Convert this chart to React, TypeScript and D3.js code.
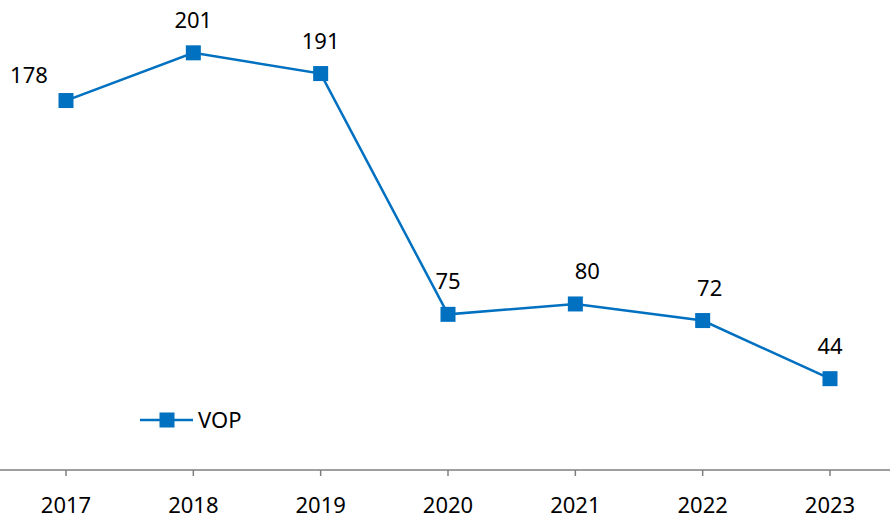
import React from "react";
import * as d3 from "d3";

const years = ["2017", "2018", "2019", "2020", "2021", "2022", "2023"];
const vop = [178, 201, 191, 75, 80, 72, 44];
const seriesName = "VOP";
// label nudges (dx, dy) relative to default "above" placement
const labelDx = [-37, 0, 0, 0, 12, 7, 0];
const labelDy = [7, 0, 0, 0, 0, 0, 0];

const W = 890;
const H = 523;
const COLOR = "#0070C0";
const FONT = "'Noto Sans', 'Open Sans', sans-serif";

export default function App() {
  const x = d3.scalePoint<string>().domain(years).range([66, 830]);
  const y = d3.scaleLinear().domain([0, 225]).range([470, 3]);
  const line = d3
    .line<number>()
    .x((_, i) => x(years[i]) as number)
    .y((d) => y(d));
  const ms = 15;

  return (
    <svg
      width={W}
      height={H}
      style={{ position: "absolute", left: 0, top: 0, background: "#fff" }}
      fontFamily={FONT}
    >
      <rect x={0} y={0} width={W} height={H} fill="#fff" />
      {/* axis */}
      <line x1={0} x2={W} y1={y(0)} y2={y(0)} stroke="#7f7f7f" strokeWidth={1.5} />
      {years.map((yr) => (
        <g key={yr}>
          <line
            x1={x(yr)}
            x2={x(yr)}
            y1={y(0)}
            y2={y(0) + 6}
            stroke="#7f7f7f"
            strokeWidth={1.5}
          />
          <text
            x={x(yr)}
            y={513}
            textAnchor="middle"
            fontSize={22}
            fill="#000"
          >
            {yr}
          </text>
        </g>
      ))}
      {/* series */}
      <path d={line(vop) || ""} fill="none" stroke={COLOR} strokeWidth={2.5} />
      {vop.map((v, i) => (
        <rect
          key={i}
          x={(x(years[i]) as number) - ms / 2}
          y={y(v) - ms / 2}
          width={ms}
          height={ms}
          fill={COLOR}
        />
      ))}
      {vop.map((v, i) => (
        <text
          key={"l" + i}
          x={(x(years[i]) as number) + labelDx[i]}
          y={y(v) - 25 + labelDy[i]}
          textAnchor="middle"
          fontSize={22}
          fill="#000"
        >
          {v}
        </text>
      ))}
      {/* legend */}
      <line x1={140} x2={193} y1={420} y2={420} stroke={COLOR} strokeWidth={2.5} />
      <rect x={167 - ms / 2} y={420 - ms / 2} width={ms} height={ms} fill={COLOR} />
      <text x={198} y={428} fontSize={22} fill="#000">
        {seriesName}
      </text>
    </svg>
  );
}
